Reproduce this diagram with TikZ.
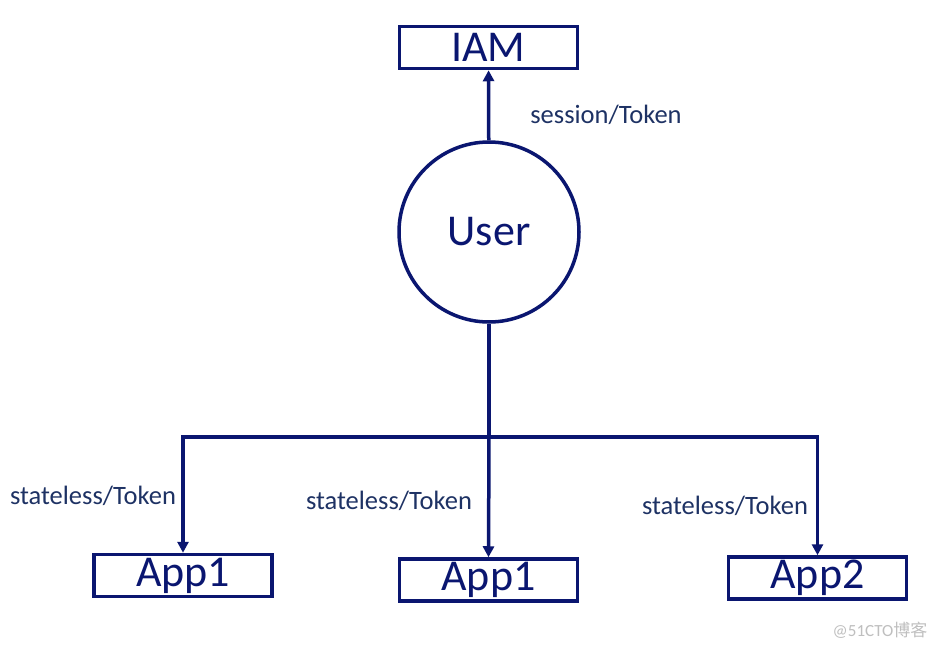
\documentclass[tikz,border=0pt]{standalone}
\usepackage{fontspec}
\setmainfont{Carlito}
\newfontfamily\cjkfont{Noto Sans CJK SC}
\usetikzlibrary{arrows.meta}
\definecolor{navy}{RGB}{10,22,112}
\definecolor{labelc}{RGB}{30,50,100}
\tikzset{
  box/.style={draw=navy, line width=3.5pt, minimum width=178pt, minimum height=42pt, inner sep=0pt, text=navy, font=\fontsize{44}{44}\selectfont},
  usercirc/.style={draw=navy, line width=3.5pt, circle, minimum size=180pt, inner sep=0pt, text=navy, font=\fontsize{44}{44}\selectfont},
  conn/.style={draw=navy, line width=3.5pt},
  arr/.style={conn, -{Triangle[length=11pt,width=11pt]}},
  lbl/.style={text=labelc, font=\fontsize{26.5}{26.5}\selectfont, inner sep=0pt}
}
\begin{document}
\begin{tikzpicture}[x=1pt,y=-1pt]
\useasboundingbox[fill=white] (0,0) rectangle (940,648);
\node[box] (iam) at (488.5,47.5) {IAM};
\node[usercirc] (user) at (489,232) {User};
\node[box] (appa) at (183,575.5) {App1};
\node[box] (appb) at (488.5,580) {App1};
\node[box] (appc) at (817.5,578) {App2};
\coordinate (j) at (489,437);
\draw[arr] (user) -- (iam);
\draw[conn] (user) -- (j);
\draw[arr] (j) -| (appa.north);
\draw[arr] (j) -- (appb.north);
\draw[arr] (j) -| (appc.north);
\node[lbl] (l0) at (606,115) {session/Token};
\node[lbl] (l1) at (93,496) {stateless/Token};
\node[lbl] (l2) at (389,501) {stateless/Token};
\node[lbl] (l3) at (725,506) {stateless/Token};
\node[text=black!25, font=\fontsize{17}{17}\selectfont, inner sep=0pt] (wm) at (880,630) {@51CTO\cjkfont 博客};
\end{tikzpicture}
\end{document}
